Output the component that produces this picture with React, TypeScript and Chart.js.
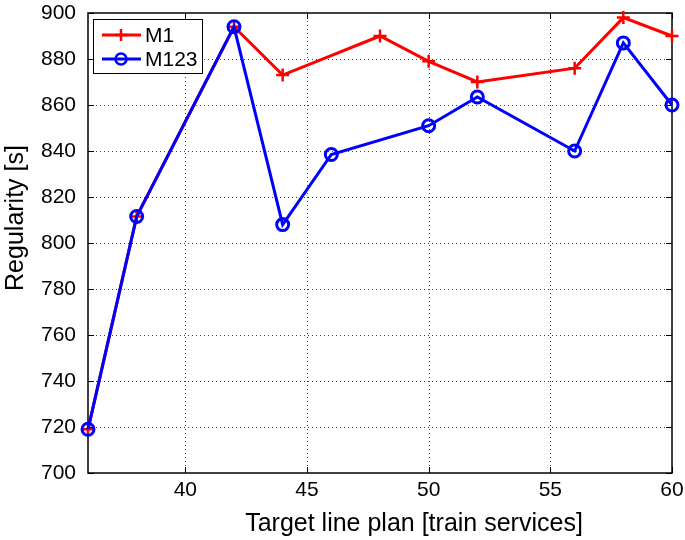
import React, { useEffect, useRef } from "react";
import { Chart, registerables } from "chart.js";

Chart.register(...registerables);

const xM1 = [36, 38, 42, 44, 48, 50, 52, 56, 58, 60];
const yM1 = [719, 811.5, 894, 873, 890, 879, 870, 876, 898, 890];
const xM123 = [36, 38, 42, 44, 46, 50, 52, 56, 58, 60];
const yM123 = [719, 811.5, 894, 808, 838.5, 851, 863.5, 840, 887, 860];
const xTicks = [40, 45, 50, 55, 60];
const yTicks = [700, 720, 740, 760, 780, 800, 820, 840, 860, 880, 900];
const seriesNames = ["M1", "M123"];
const xTitle = "Target line plan [train services]";
const yTitle = "Regularity [s]";
const RED = "#ff0000";
const BLUE = "#0000ff";
const FONT = "'Liberation Sans', Arial, Helvetica, sans-serif";

const boxPlugin = {
  id: "matlabBox",
  beforeDatasetsDraw(chart: any) {
    const { ctx, chartArea: a, scales } = chart;
    ctx.save();
    ctx.strokeStyle = "#444";
    ctx.lineWidth = 1;
    ctx.setLineDash([1, 3]);
    ctx.beginPath();
    xTicks.forEach((v) => {
      const px = Math.round(scales.x.getPixelForValue(v)) + 0.5;
      if (px > a.right - 2) return;
      ctx.moveTo(px, a.top);
      ctx.lineTo(px, a.bottom);
    });
    yTicks.forEach((v) => {
      const py = Math.round(scales.y.getPixelForValue(v)) + 0.5;
      if (py < a.top + 2 || py > a.bottom - 2) return;
      ctx.moveTo(a.left, py);
      ctx.lineTo(a.right, py);
    });
    ctx.stroke();
    ctx.setLineDash([]);
    ctx.strokeStyle = "#000";
    const tl = 6;
    ctx.beginPath();
    xTicks.forEach((v) => {
      const px = Math.round(scales.x.getPixelForValue(v)) + 0.5;
      ctx.moveTo(px, a.bottom);
      ctx.lineTo(px, a.bottom - tl);
      ctx.moveTo(px, a.top);
      ctx.lineTo(px, a.top + tl);
    });
    yTicks.forEach((v) => {
      const py = Math.round(scales.y.getPixelForValue(v)) + 0.5;
      ctx.moveTo(a.left, py);
      ctx.lineTo(a.left + tl, py);
      ctx.moveTo(a.right, py);
      ctx.lineTo(a.right - tl, py);
    });
    ctx.stroke();
    ctx.lineWidth = 1.5;
    ctx.strokeRect(a.left, a.top, a.right - a.left, a.bottom - a.top);
    ctx.restore();
  },
  afterDatasetsDraw(chart: any) {
    const { ctx, chartArea: a } = chart;
    ctx.save();
    const bx = a.left + 5;
    const by = a.top + 6;
    const bw = 109;
    const bh = 54;
    ctx.fillStyle = "#fff";
    ctx.fillRect(bx, by, bw, bh);
    ctx.strokeStyle = "#000";
    ctx.lineWidth = 1;
    ctx.strokeRect(bx + 0.5, by + 0.5, bw, bh);
    const colors = [RED, BLUE];
    const rowsY = [by + 16, by + 40];
    seriesNames.forEach((name, i) => {
      const y = rowsY[i];
      ctx.strokeStyle = colors[i];
      ctx.lineWidth = 3;
      ctx.beginPath();
      ctx.moveTo(bx + 9, y);
      ctx.lineTo(bx + 48, y);
      ctx.stroke();
      const cx = bx + 28;
      ctx.lineWidth = 2.5;
      ctx.beginPath();
      if (i === 0) {
        ctx.moveTo(cx - 6, y);
        ctx.lineTo(cx + 6, y);
        ctx.moveTo(cx, y - 6);
        ctx.lineTo(cx, y + 6);
      } else {
        ctx.arc(cx, y, 5.5, 0, Math.PI * 2);
      }
      ctx.stroke();
      ctx.fillStyle = "#000";
      ctx.font = `21px ${FONT}`;
      ctx.textBaseline = "middle";
      ctx.textAlign = "left";
      ctx.fillText(name, bx + 52, y + 1);
    });
    ctx.restore();
  },
  afterDraw(chart: any) {
    const { ctx } = chart;
    ctx.save();
    ctx.fillStyle = "#000";
    ctx.font = `25px ${FONT}`;
    ctx.textAlign = "center";
    ctx.textBaseline = "alphabetic";
    ctx.fillText(xTitle, 414, 531);
    ctx.translate(23, 218);
    ctx.rotate(-Math.PI / 2);
    ctx.fillText(yTitle, 0, 0);
    ctx.restore();
  },
};

export default function App() {
  const ref = useRef<HTMLCanvasElement | null>(null);
  useEffect(() => {
    if (!ref.current) return;
    const chart = new Chart(ref.current, {
      type: "line",
      data: {
        datasets: [
          {
            label: seriesNames[0],
            data: xM1.map((x, i) => ({ x, y: yM1[i] })),
            borderColor: RED,
            backgroundColor: RED,
            borderWidth: 3,
            pointStyle: "cross",
            pointRadius: 6.5,
            pointBorderWidth: 2.5,
            pointBorderColor: RED,
            clip: false as any,
            order: 1,
          },
          {
            label: seriesNames[1],
            data: xM123.map((x, i) => ({ x, y: yM123[i] })),
            borderColor: BLUE,
            backgroundColor: "rgba(0,0,0,0)",
            borderWidth: 3,
            pointStyle: "circle",
            pointRadius: 6,
            pointBorderWidth: 3,
            pointBorderColor: BLUE,
            clip: false as any,
            order: 0,
          },
        ],
      },
      options: {
        animation: false,
        responsive: false,
        maintainAspectRatio: false,
        layout: { padding: { left: 0, top: 13, right: 13, bottom: 0 } },
        plugins: {
          legend: { display: false },
          tooltip: { enabled: false },
        },
        scales: {
          x: {
            type: "linear",
            min: 36,
            max: 60,
            afterBuildTicks: (s: any) => {
              s.ticks = xTicks.map((v) => ({ value: v }));
            },
            afterFit: (s: any) => {
              s.height = 67;
              s.paddingLeft = 0;
              s.paddingRight = 0;
            },
            grid: { display: false, drawTicks: false, tickLength: 0 },
            border: { display: false },
            ticks: {
              color: "#000",
              font: { size: 21, family: FONT },
              padding: 5,
              maxRotation: 0,
            },
            title: { display: false },
          },
          y: {
            type: "linear",
            min: 700,
            max: 900,
            afterBuildTicks: (s: any) => {
              s.ticks = yTicks.map((v) => ({ value: v }));
            },
            afterFit: (s: any) => {
              s.width = 88;
              s.paddingTop = 0;
              s.paddingBottom = 0;
            },
            grid: { display: false, drawTicks: false, tickLength: 0 },
            border: { display: false },
            ticks: {
              color: "#000",
              font: { size: 21, family: FONT },
              padding: 12,
            },
            title: { display: false },
          },
        },
      },
      plugins: [boxPlugin],
    });
    return () => chart.destroy();
  }, []);
  return (
    <div style={{ position: "fixed", left: 0, top: 0, width: 685, height: 540, background: "#fff" }}>
      <canvas ref={ref} width={685} height={540} style={{ width: 685, height: 540 }} />
    </div>
  );
}
